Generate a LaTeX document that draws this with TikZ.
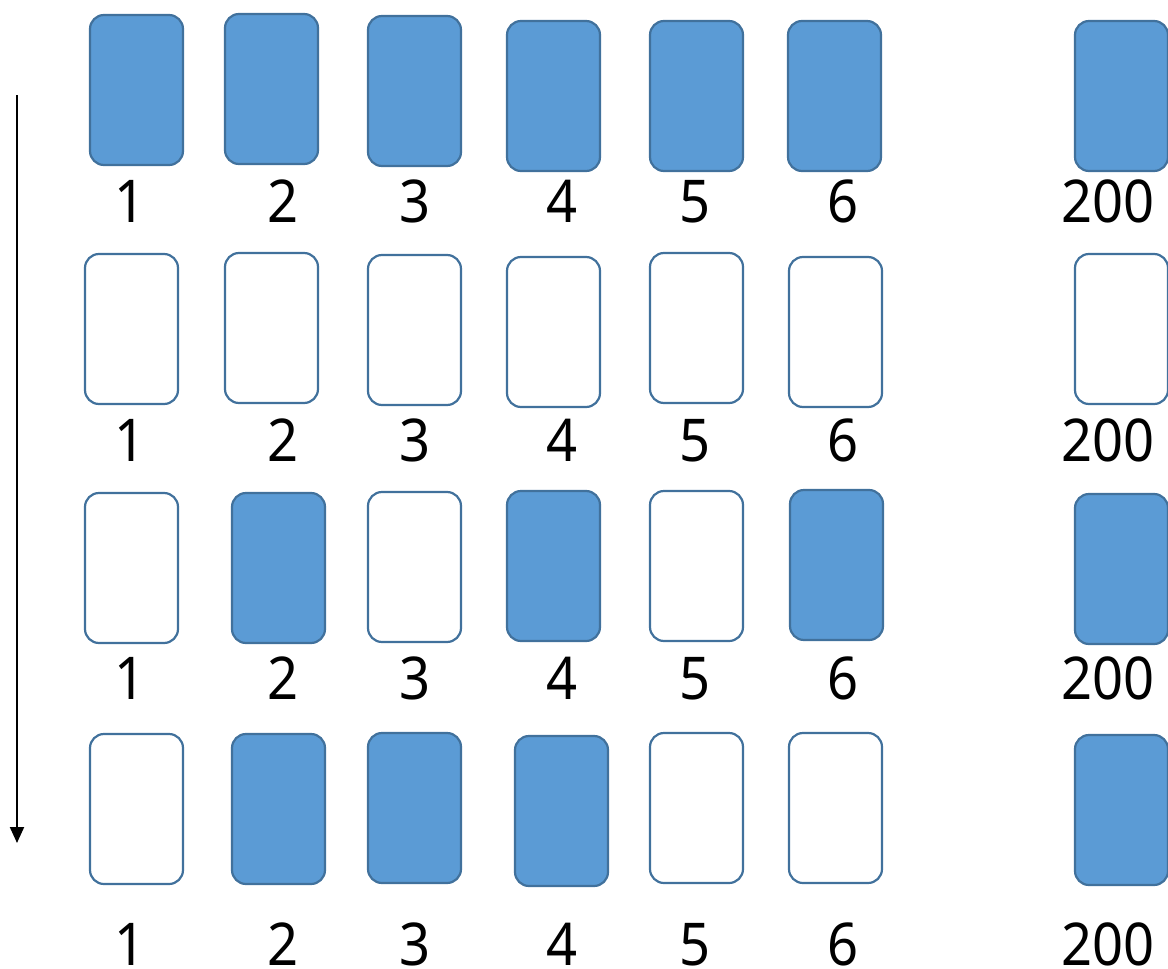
\documentclass[tikz,border=0pt]{standalone}
\usepackage{fontspec}
\setmainfont{Noto Sans}
\usetikzlibrary{arrows.meta}
\definecolor{cardfill}{HTML}{5B9BD5}
\definecolor{cardline}{HTML}{41719C}
\tikzset{
  card/.style={draw=cardline, line width=2.2pt, rounded corners=14pt,
    minimum width=93pt, minimum height=150pt, inner sep=0pt},
  full/.style={card, fill=cardfill},
  empty/.style={card, fill=white},
  num/.style={font=\fontsize{59}{62}\selectfont, inner sep=0pt, anchor=base, xscale=0.92},
}
\begin{document}
\begin{tikzpicture}[x=1pt, y=-1pt]
\useasboundingbox (0,0) rectangle (1168,969);
% row 1
\node[full] (a1) at (136.5,90) {};
\node[full] (a2) at (271.5,89) {};
\node[full] (a3) at (414.5,91) {};
\node[full] (a4) at (553.5,96) {};
\node[full] (a5) at (696.5,96) {};
\node[full] (a6) at (834.5,96) {};
\node[full] (a7) at (1121.5,96) {};
% row 2
\node[empty] (b1) at (131.5,329) {};
\node[empty] (b2) at (271.5,328) {};
\node[empty] (b3) at (414.5,330) {};
\node[empty] (b4) at (553.5,332) {};
\node[empty] (b5) at (696.5,328) {};
\node[empty] (b6) at (835.5,332) {};
\node[empty] (b7) at (1121.5,329) {};
% row 3
\node[empty] (c1) at (131.5,568) {};
\node[full]  (c2) at (278.5,568) {};
\node[empty] (c3) at (414.5,567) {};
\node[full]  (c4) at (553.5,566) {};
\node[empty] (c5) at (696.5,566) {};
\node[full]  (c6) at (836.5,565) {};
\node[full]  (c7) at (1121.5,569) {};
% row 4
\node[empty] (d1) at (136.5,809) {};
\node[full]  (d2) at (278.5,809) {};
\node[full]  (d3) at (414.5,808) {};
\node[full]  (d4) at (561.5,811) {};
\node[empty] (d5) at (696.5,808) {};
\node[empty] (d6) at (835.5,808) {};
\node[full]  (d7) at (1121.5,810) {};
% labels (placed on their baselines)
\foreach \r/\y in {a/222,b/461,c/699,d/965}{
  \node[num] (\r l1) at (130,\y) {1};
  \node[num] (\r l2) at (283,\y) {2};
  \node[num] (\r l3) at (415,\y) {3};
  \node[num] (\r l4) at (562,\y) {4};
  \node[num] (\r l5) at (695,\y) {5};
  \node[num] (\r l6) at (843,\y) {6};
  \node[num] (\r l7) at (1108,\y) {200};
}
% arrow
\coordinate (top) at (17,95);
\coordinate (bot) at (17,843);
\draw[line width=2pt, -{Triangle[length=16pt,width=14pt]}] (top) -- (bot);
\end{tikzpicture}
\end{document}
